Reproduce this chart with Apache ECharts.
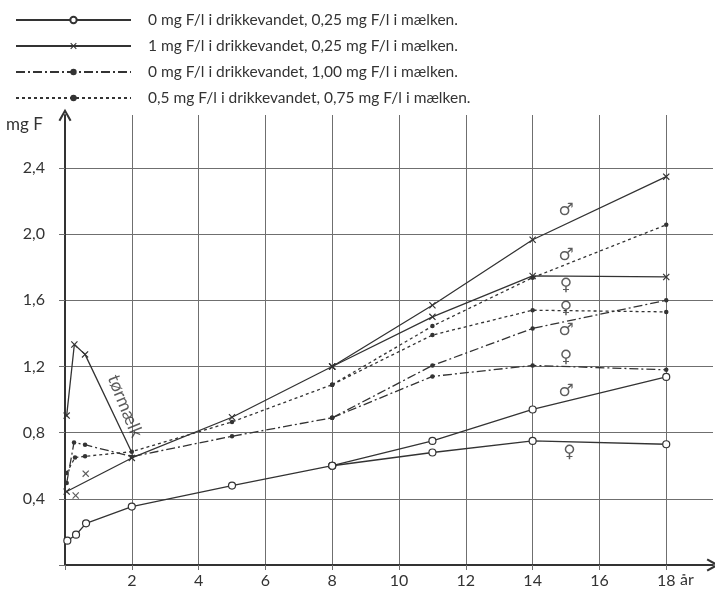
<!DOCTYPE html>
<html><head><meta charset="utf-8">
<script src="https://cdn.jsdelivr.net/npm/echarts@6/dist/echarts.min.js"></script>
<style>html,body{margin:0;padding:0;background:#fff}#c{width:715px;height:591px}</style>
</head><body><div id="c"></div>
<script>
// ---- data ----
const legendNames = [
  '0 mg F/l i drikkevandet, 0,25 mg F/l i mælken.',
  '1 mg F/l i drikkevandet, 0,25 mg F/l i mælken.',
  '0 mg F/l i drikkevandet, 1,00 mg F/l i mælken.',
  '0,5 mg F/l i drikkevandet, 0,75 mg F/l i mælken.'
];
const branchAges = [8, 11, 14, 18];

const s1Ages = [0.07, 0.33, 0.63, 2, 5, 8];
const s1Vals = [0.147, 0.183, 0.252, 0.353, 0.48, 0.6];
const s1Male = [0.6, 0.75, 0.94, 1.137];
const s1Female = [0.6, 0.68, 0.75, 0.73];

const s2Ages = [0.05, 2, 5, 8];
const s2Vals = [0.444, 0.647, 0.893, 1.2];
const s2Male = [1.2, 1.57, 1.966, 2.347];
const s2Female = [1.2, 1.5, 1.747, 1.741];
const s2DryAges = [0.05, 0.28, 0.6, 2];
const s2DryVals = [0.903, 1.333, 1.273, 0.68];
const s2ExtraAges = [0.32, 0.62];
const s2ExtraVals = [0.42, 0.552];

const s3Ages = [0.05, 0.27, 0.6, 2, 5, 8];
const s3Vals = [0.495, 0.741, 0.727, 0.655, 0.778, 0.89];
const s3Male = [0.89, 1.206, 1.43, 1.6];
const s3Female = [0.89, 1.14, 1.206, 1.18];

const s4Ages = [0.05, 0.3, 0.6, 2, 5, 8];
const s4Vals = [0.556, 0.65, 0.657, 0.685, 0.865, 1.09];
const s4Male = [1.09, 1.444, 1.737, 2.056];
const s4Female = [1.09, 1.39, 1.54, 1.53];

const xTicks = [2, 4, 6, 8, 10, 12, 14, 16, 18];
const yTicks = [0.4, 0.8, 1.2, 1.6, 2.0, 2.4];

const genderAges = [15, 15, 15, 15, 15, 15, 15, 15.1];
const genderVals = [2.14, 1.873, 1.687, 1.55, 1.414, 1.253, 1.05, 0.677];
const genderSigns = ['♂', '♂', '♀', '♀', '♂', '♀', '♂', '♀'];

const dryLabelPos = [1.8, 0.96];
const dryLabelText = 'tørmælk';

// ---- styles ----
const INK = '#333';
const GRID = '#6f6f6f';
const FONT = 'Lato';
const crossPath = 'path://M0,1.2 L1.2,0 L5,3.8 L8.8,0 L10,1.2 L6.2,5 L10,8.8 L8.8,10 L5,6.2 L1.2,10 L0,8.8 L3.8,5 Z';
const chevron = 'path://M0,9 L5,0 L10,9 L8.6,9.8 L5,3.2 L1.4,9.8 Z';
const zip = (xs, ys) => xs.map((x, i) => [x, ys[i]]);

const st = [
  { lineStyle: { color: INK, width: 1.3, type: 'solid' }, symbol: 'circle', symbolSize: 7,
    itemStyle: { color: '#fff', borderColor: INK, borderWidth: 1.2 } },
  { lineStyle: { color: INK, width: 1.3, type: 'solid' }, symbol: crossPath, symbolSize: 7,
    itemStyle: { color: INK, borderWidth: 0 } },
  { lineStyle: { color: INK, width: 1.3, type: [9, 3, 2, 3] }, symbol: 'circle', symbolSize: 4.5,
    itemStyle: { color: INK } },
  { lineStyle: { color: INK, width: 1.3, type: [3, 3] }, symbol: 'circle', symbolSize: 4.5,
    itemStyle: { color: INK } }
];
function line(k, data, extra) {
  return Object.assign({ type: 'line', name: legendNames[k], data: data, showAllSymbol: true,
    z: 3 + k, silent: true }, st[k], extra || {});
}

const series = [
  line(0, zip(s1Ages, s1Vals)),
  line(1, zip(s2Ages, s2Vals)),
  line(2, zip(s3Ages, s3Vals)),
  line(3, zip(s4Ages, s4Vals)),
  line(0, zip(branchAges, s1Male)),
  line(0, zip(branchAges, s1Female)),
  line(1, zip(branchAges, s2Male)),
  line(1, zip(branchAges, s2Female)),
  line(1, zip(s2DryAges, s2DryVals).map((p, i, a) => i === a.length - 1 ? { value: p, symbol: 'none' } : p)),
  Object.assign({ type: 'scatter', name: legendNames[1], data: zip(s2ExtraAges, s2ExtraVals),
    symbol: crossPath, symbolSize: 7, itemStyle: { color: INK }, z: 4, silent: true }),
  line(2, zip(branchAges, s3Male)),
  line(2, zip(branchAges, s3Female)),
  line(3, zip(branchAges, s4Male)),
  line(3, zip(branchAges, s4Female)),
  { type: 'scatter', data: zip(genderAges, genderVals).map((p, i) => ({ value: p, name: genderSigns[i] })),
    symbolSize: 0, silent: true, z: 10,
    label: { show: true, position: 'inside', formatter: p => p.name, color: INK,
      fontFamily: 'DejaVu Sans', fontSize: 17 } },
  { type: 'scatter', data: [{ value: dryLabelPos, name: dryLabelText }], symbolSize: 0, silent: true, z: 10,
    label: { show: true, position: 'inside', formatter: p => p.name, color: INK, rotate: -68,
      fontFamily: FONT, fontSize: 18 } }
];

const fmtNum = v => v.toFixed(1).replace('.', ',');
const near = (arr, v) => arr.some(t => Math.abs(t - v) < 1e-6);

const chart = echarts.init(document.getElementById('c'), null, { renderer: 'canvas' });
chart.setOption({
  animation: false,
  backgroundColor: '#fff',
  textStyle: { fontFamily: FONT },
  legend: {
    data: legendNames, orient: 'vertical', left: 10, top: 7,
    itemWidth: 115, itemHeight: 8, itemGap: 10,
    textStyle: { fontFamily: FONT, fontSize: 15.5, color: INK, padding: [0, 0, 0, 12] },
    selectedMode: false
  },
  grid: { left: 65, right: 2, top: 115, bottom: 26, containLabel: false },
  xAxis: {
    type: 'value', min: 0, max: 19.4, interval: 2,
    axisLine: { show: true, lineStyle: { color: INK, width: 2 }, symbol: ['none', chevron], symbolSize: [13, 13] },
    axisTick: { show: true, length: 5, lineStyle: { color: GRID } },
    axisLabel: { margin: 8, fontSize: 16, color: INK, fontFamily: FONT,
      formatter: v => near(xTicks, v) ? String(v) : '', showMaxLabel: false },
    splitLine: { show: true, showMinLine: false, showMaxLine: false, lineStyle: { color: GRID, width: 1 } }
  },
  yAxis: {
    type: 'value', min: 0, max: 2.72, interval: 0.4,
    axisLine: { show: true, lineStyle: { color: INK, width: 2 }, symbol: ['none', chevron], symbolSize: [13, 13] },
    axisTick: { show: true, length: 6, lineStyle: { color: GRID } },
    axisLabel: { margin: 20, fontSize: 16, color: INK, fontFamily: FONT,
      formatter: v => near(yTicks, v) ? fmtNum(v) : '', showMaxLabel: false },
    splitLine: { show: true, showMinLine: false, showMaxLine: false, lineStyle: { color: GRID, width: 1 } }
  },
  graphic: [
    { type: 'text', left: 6, top: 116, style: { text: 'mg F', fontSize: 17, fontFamily: FONT, fill: INK } },
    { type: 'text', left: 680, top: 572, style: { text: 'år', fontSize: 16, fontFamily: FONT, fill: INK } }
  ],
  series: series
});
</script>
</body></html>
